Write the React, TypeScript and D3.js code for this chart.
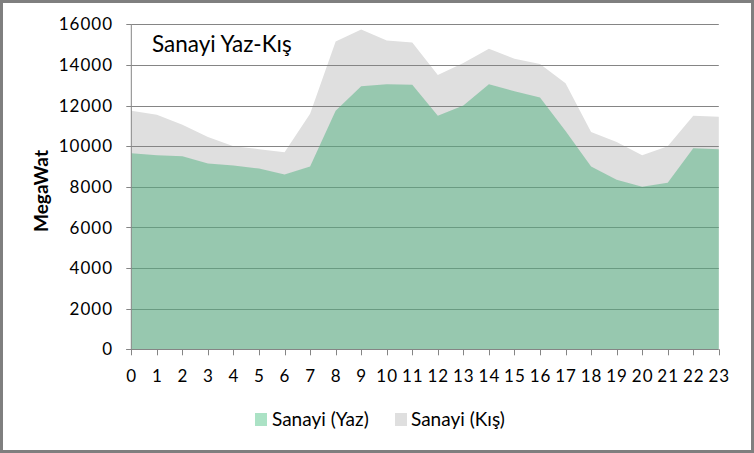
import React from "react";
import * as d3 from "d3";

const hours: number[] = Array.from({ length: 24 }, (_, i) => i);
const hourLabels: string[] = hours.map((h) => String(h));
const yazValues: number[] = [9650, 9550, 9500, 9150, 9050, 8900, 8600, 9000, 11750, 12950, 13050, 13030, 11500, 12000, 13050, 12700, 12400, 10750, 9000, 8350, 8000, 8200, 9900, 9850];
const kisValues: number[] = [11750, 11550, 11050, 10450, 10000, 9850, 9700, 11600, 15150, 15750, 15200, 15100, 13500, 14100, 14800, 14300, 14050, 13100, 10700, 10200, 9550, 10000, 11500, 11450];
const yTicks: number[] = [0, 2000, 4000, 6000, 8000, 10000, 12000, 14000, 16000];
const seriesNames: string[] = ["Sanayi (Yaz)", "Sanayi (Kış)"];
const titleText = "Sanayi Yaz-Kış";
const yAxisTitle = "MegaWat";

const W = 754;
const H = 453;
const left = 131.3;
const right = 718.8;
const top = 24.3;
const bottom = 349.3;
const FONT = "Lato, 'Open Sans', sans-serif";

const GRAY = "#DFDFDF";
const GREEN = "rgb(80,178,128)";
const GREEN_OP = 0.5;
const GREEN_SWATCH = "#ABE2C5";
const GRID = "#858585";

export default function App() {
  const x = d3.scaleLinear().domain([0, 23]).range([left, right]);
  const y = d3.scaleLinear().domain([0, 16000]).range([bottom, top]);

  const area = d3
    .area<number>()
    .x((_, i) => x(hours[i]))
    .y0(y(0))
    .y1((d) => y(d));

  return (
    <svg
      width={W}
      height={H}
      style={{ position: "absolute", left: 0, top: 0, display: "block" }}
      fontFamily={FONT}
    >
      <rect x={0} y={0} width={W} height={H} fill="#fff" />
      <path d={area(kisValues) || ""} fill={GRAY} />
      {yTicks.slice(1).map((t) => (
        <line key={t} x1={left} x2={right} y1={Math.round(y(t)) + 0.5} y2={Math.round(y(t)) + 0.5} stroke={GRID} strokeWidth={1} />
      ))}
      <path d={area(yazValues) || ""} fill={GREEN} fillOpacity={GREEN_OP} />
      {/* axes */}
      <line x1={left} x2={left} y1={top} y2={bottom} stroke={GRID} strokeWidth={1} />
      <line x1={left - 5} x2={right} y1={Math.round(bottom) + 0.5} y2={Math.round(bottom) + 0.5} stroke={GRID} strokeWidth={1} />
      {yTicks.map((t) => (
        <g key={"yt" + t}>
          <line x1={left - 5} x2={left} y1={Math.round(y(t)) + 0.5} y2={Math.round(y(t)) + 0.5} stroke={GRID} />
          <text x={113} y={y(t)} dy="0.36em" textAnchor="end" fontSize={17} letterSpacing={1} fill="#000">
            {t}
          </text>
        </g>
      ))}
      {hours.map((h, i) => (
        <g key={"xt" + h}>
          <line x1={Math.round(x(h)) + 0.5} x2={Math.round(x(h)) + 0.5} y1={bottom} y2={bottom + 6} stroke={GRID} />
          <text x={x(h) + 0.5} y={382} textAnchor="middle" fontSize={17} letterSpacing={1} fill="#000">
            {hourLabels[i]}
          </text>
        </g>
      ))}
      <text
        transform={`translate(48,191) rotate(-90)`}
        textAnchor="middle"
        fontSize={19}
        fontWeight="bold"
        fill="#000"
      >
        {yAxisTitle}
      </text>
      <text x={152} y={52} fontSize={22.5} fill="#000">
        {titleText}
      </text>
      {/* legend */}
      <rect x={255} y={413} width={12} height={13} fill={GREEN_SWATCH} />
      <text x={272} y={426} fontSize={19} fill="#000">
        {seriesNames[0]}
      </text>
      <rect x={395} y={413} width={12} height={13} fill={GRAY} />
      <text x={411} y={426} fontSize={19} fill="#000">
        {seriesNames[1]}
      </text>
      <rect x={1.5} y={1.5} width={W - 3} height={H - 3} fill="none" stroke="#7f7f7f" strokeWidth={3} />
    </svg>
  );
}
